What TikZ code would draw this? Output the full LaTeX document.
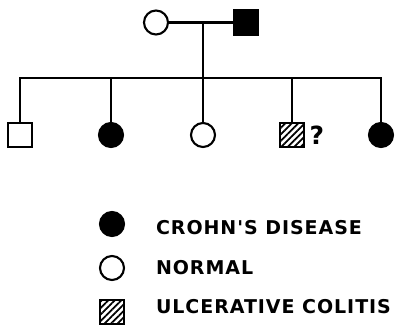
\documentclass[tikz,border=0pt]{standalone}
\usepackage{fontspec}
\setmainfont{DejaVu Sans}
\newfontfamily\legendfont[LetterSpace=5]{DejaVu Sans}
\usetikzlibrary{positioning,patterns.meta}

\begin{document}
\begin{tikzpicture}[
    x=1pt, y=-1pt,
    line width=2.1pt,
    male/.style={rectangle, draw, minimum size=23.5pt, inner sep=0pt},
    female/.style={circle, draw, minimum size=24pt, inner sep=0pt},
    crohn/.style={fill=black},
    colitis/.style={pattern={Lines[angle=45,distance=4.6pt,line width=1.8pt]}},
    legendtext/.style={anchor=west, inner sep=0pt, font=\legendfont\bfseries\fontsize{19}{21}\selectfont}
]
    \useasboundingbox (0,0) rectangle (395,324);

    % Parents
    \node (mo) at (156,22.5) [female] {};
    \node (fa) at (246,22.5) [male, crohn, minimum size=24.5pt] {};
    \coordinate (mid) at (203,22.5);
    \coordinate (sib) at (203,78);

    % Children
    \node (c1) at (20,135) [male] {};
    \node (c2) at (111,135) [female, crohn] {};
    \node (c3) at (203,135) [female] {};
    \node (c4) at (292,135) [male, colitis] {};
    \node (c5) at (381,135) [female, crohn] {};
    \node (q) [right=4pt of c4, inner sep=0pt, font=\rmfamily\bfseries\fontsize{25}{25}\selectfont] {?};

    % Marriage and descent
    \draw (mo) -- (fa);
    \draw (mid) -- (sib);

    % Sibship line
    \draw (c1.north) |- (sib) -| (c5.north);
    \draw (c2) -- (c2 |- sib);
    \draw (c3) -- (c3 |- sib);
    \draw (c4) -- (c4 |- sib);

    % Legend
    \node (k1) at (112,224) [female, crohn] {};
    \node (k2) at (112,268) [female] {};
    \node (k3) at (112,312) [male, colitis] {};
    \node (t1) at (155,227.5) [legendtext] {CROHN'S DISEASE};
    \node (t2) at (155,268) [legendtext] {NORMAL};
    \node (t3) at (155,306.5) [legendtext] {ULCERATIVE\ COLITIS};
\end{tikzpicture}
\end{document}
